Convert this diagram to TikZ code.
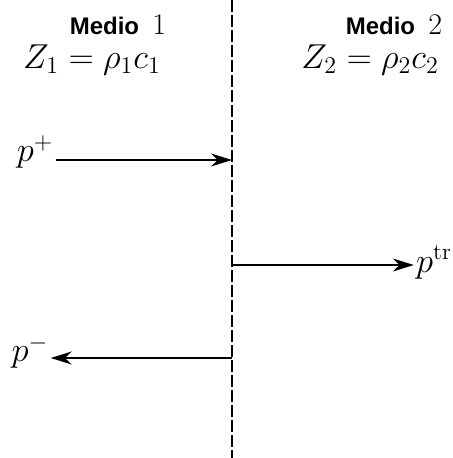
\documentclass[tikz,border=0pt]{standalone}
\usepackage{amsmath}
\usepackage{fontspec}
\setsansfont{Liberation Sans}
\usepackage{tikz}
\usetikzlibrary{arrows.meta, positioning}

\begin{document}
\begin{tikzpicture}[x=0.5pt, y=-0.5pt]
    % Define styles
    \tikzset{
        medio/.style={font=\fontsize{12}{14}\selectfont\sffamily\bfseries, inner sep=0pt},
        impedance/.style={font=\fontsize{16.5}{19}\selectfont, inner sep=0pt},
        wave/.style={font=\fontsize{16.5}{19}\selectfont, inner sep=1pt},
        ray/.style={line width=1pt, -{Stealth[length=10.5pt, width=6.5pt]}},
        interface/.style={line width=0.7pt, dash pattern=on 6pt off 1.5pt}
    }
    \useasboundingbox (0,0) rectangle (452,458);

    % Interface
    \coordinate (top) at (232,0);
    \coordinate (bottom) at (232,458);
    \draw[interface] (top) -- (bottom);
    \coordinate (hit1) at (232,160);
    \coordinate (hit2) at (232,265);
    \coordinate (hit3) at (232,358);

    % Media
    \node[medio] (medio1) at (118,25) {Medio\ \ {\rmfamily\mdseries\fontsize{15}{17}\selectfont 1}};
    \node[medio] (medio2) at (394,25) {Medio\ \ {\rmfamily\mdseries\fontsize{15}{17}\selectfont 2}};
    \node[impedance] (z1) at (92,60) {$Z_1 = \rho_1 c_1$};
    \node[impedance] (z2) at (370,60) {$Z_2 = \rho_2 c_2$};

    % Waves
    \node[wave] (pinc) at (35,152) {$p^{+}$};
    \node[wave] (ptr) at (434,262) {$p^{\mathrm{tr}}$};
    \node[wave] (pref) at (30,352) {$p^{-}$};

    % Arrows
    \draw[ray] (pinc.east |- hit1) -- (hit1);
    \draw[ray] (hit2) -- (ptr.west |- hit2);
    \draw[ray] (hit3) -- (pref.east |- hit3);
\end{tikzpicture}
\end{document}
